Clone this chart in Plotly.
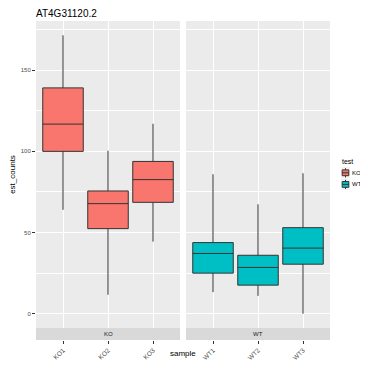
import plotly.graph_objects as go

title = "AT4G31120.2"
ko_samples = ["KO1", "KO2", "KO3"]
ko_low = [64, 11.7, 44.4]
ko_q1 = [100, 52.4, 68.6]
ko_med = [116.8, 67.8, 82.6]
ko_q3 = [139.1, 75.6, 93.8]
ko_high = [171.5, 100.4, 117]

wt_samples = ["WT1", "WT2", "WT3"]
wt_low = [13.3, 11, 0]
wt_q1 = [25, 17.6, 30.5]
wt_med = [37.1, 28.5, 40.4]
wt_q3 = [43.8, 36, 53]
wt_high = [85.9, 67.4, 86.5]

legend_title = "test"
legend_labels = ["KO", "WT"]

KO_COL = "#F8766D"
WT_COL = "#00BFC4"
LINE_COL = "#333333"
FONT = "Liberation Sans"

fig = go.Figure()
fig.add_trace(go.Box(
    x=ko_samples, q1=ko_q1, median=ko_med, q3=ko_q3,
    lowerfence=ko_low, upperfence=ko_high, name="KO",
    fillcolor=KO_COL, line=dict(color=LINE_COL, width=1),
    boxpoints=False, whiskerwidth=0, width=0.9,
    xaxis="x", yaxis="y", showlegend=False))
fig.add_trace(go.Box(
    x=wt_samples, q1=wt_q1, median=wt_med, q3=wt_q3,
    lowerfence=wt_low, upperfence=wt_high, name="WT",
    fillcolor=WT_COL, line=dict(color=LINE_COL, width=1),
    boxpoints=False, whiskerwidth=0, width=0.9,
    xaxis="x2", yaxis="y2", showlegend=False))

# page has an 8px body margin; keep the page free of scrollbars
W, H = 360, 352
ml, mr, mt, mb = 28, 38, 13, 20
pw = W - ml - mr
ph = H - mt - mb
strip = 12 / ph
d1 = [0, 144 / pw]
d2 = [150 / pw, 1]


def px(fx):
    return (fx - ml) / pw


def py(fy):
    return 1 - (fy - mt) / ph


tickfont = dict(family=FONT, size=6, color="#4D4D4D")
xcommon = dict(
    showgrid=True, gridcolor="white", gridwidth=1, zeroline=False,
    showline=False, ticks="outside", ticklen=3, tickcolor=LINE_COL,
    tickangle=-45, tickfont=dict(family=FONT, size=6.5, color="#4D4D4D"),
    range=[-0.6, 2.6],
    anchor="free", position=0, type="category", automargin=False)
ycommon = dict(
    range=[-8.8, 180.3], domain=[strip, 1], showgrid=True, gridcolor="white",
    gridwidth=1, zeroline=False, showline=False, automargin=False,
    tickvals=[0, 50, 100, 150],
    minor=dict(showgrid=True, gridcolor="white", gridwidth=0.5, tickvals=[25, 75, 125, 175]))

fig.update_layout(
    width=W, height=H,
    margin=dict(l=ml, r=mr, t=mt, b=mb, autoexpand=False),
    paper_bgcolor="white", plot_bgcolor="#EBEBEB",
    font=dict(family=FONT, color="black"),
    title=dict(text=title, x=ml / W, xanchor="left", xref="container",
               y=1 - 5 / H, yanchor="middle", yref="container", automargin=False,
               font=dict(family=FONT, size=10, color="black")),
    xaxis=dict(domain=d1, **xcommon),
    xaxis2=dict(domain=d2, **xcommon),
    yaxis=dict(anchor="x", ticks="outside", ticklen=3, tickcolor=LINE_COL,
               tickfont=tickfont,
               title=dict(text="est_counts", font=dict(family=FONT, size=8, color="black"), standoff=9),
               **ycommon),
    yaxis2=dict(anchor="x2", showticklabels=False, ticks="", **ycommon),
    showlegend=False,
)

# facet strips
for dom, lab in [(d1, "KO"), (d2, "WT")]:
    fig.add_shape(type="rect", xref="paper", yref="paper",
                  x0=dom[0], x1=dom[1], y0=0, y1=strip,
                  fillcolor="#D9D9D9", line=dict(width=0), layer="above")
    fig.add_annotation(text=lab, xref="paper", yref="paper",
                       x=(dom[0] + dom[1]) / 2, y=strip / 2, showarrow=False,
                       font=dict(family=FONT, size=6, color="#1A1A1A"),
                       xanchor="center", yanchor="middle")

# legend (ggplot-style boxplot keys)
kx, kw, kh = 333, 9, 11.6
fig.add_annotation(text=legend_title, xref="paper", yref="paper",
                   x=px(kx), y=py(153), xanchor="left", yanchor="middle",
                   showarrow=False, borderpad=0,
                   font=dict(family=FONT, size=7, color="black"))
for i, (lab, col) in enumerate(zip(legend_labels, [KO_COL, WT_COL])):
    top = 159 + i * kh
    cx = kx + kw / 2
    fig.add_shape(type="rect", xref="paper", yref="paper",
                  x0=px(kx), x1=px(kx + kw), y0=py(top), y1=py(top + kh),
                  fillcolor="#F2F2F2", line=dict(width=0))
    fig.add_shape(type="line", xref="paper", yref="paper",
                  x0=px(cx), x1=px(cx), y0=py(top + 1.2), y1=py(top + kh - 1.2),
                  line=dict(color=LINE_COL, width=1))
    fig.add_shape(type="rect", xref="paper", yref="paper",
                  x0=px(kx + 1.2), x1=px(kx + kw - 1.2), y0=py(top + 2.9), y1=py(top + kh - 2.9),
                  fillcolor=col, line=dict(color=LINE_COL, width=1))
    fig.add_shape(type="line", xref="paper", yref="paper",
                  x0=px(kx + 1.2), x1=px(kx + kw - 1.2), y0=py(top + kh / 2), y1=py(top + kh / 2),
                  line=dict(color=LINE_COL, width=1))
    fig.add_annotation(text=lab, xref="paper", yref="paper",
                       x=px(kx + kw + 1), y=py(top + kh / 2), xanchor="left",
                       yanchor="middle", showarrow=False, borderpad=0,
                       font=dict(family=FONT, size=6, color="black"))

fig.add_annotation(text="sample", xref="paper", yref="paper", x=0.5, y=py(H),
                   yanchor="bottom", showarrow=False,
                   font=dict(family=FONT, size=8, color="black"))

fig.write_html("out.html")
